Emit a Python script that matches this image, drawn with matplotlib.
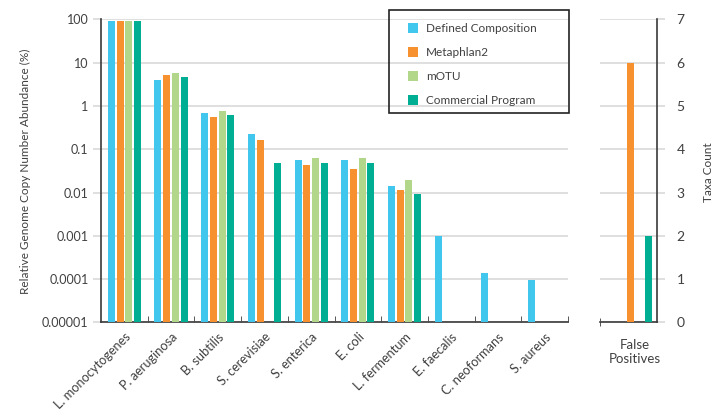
import numpy as np
import matplotlib
matplotlib.use("Agg")
import matplotlib.pyplot as plt
from matplotlib.patches import Patch, Rectangle
from matplotlib.ticker import FixedLocator, NullLocator

plt.rcParams['font.family'] = ['Lato', 'DejaVu Sans']

species = ["L. monocytogenes", "P. aeruginosa", "B. subtilis", "S. cerevisiae",
           "S. enterica", "E. coli", "L. fermentum", "E. faecalis",
           "C. neoformans", "S. aureus"]
series = ["Defined Composition", "Metaphlan2", "mOTU", "Commercial Program"]
colors = ["#41c6ee", "#f7902f", "#b2d68a", "#00ae94"]

nan = np.nan
defined = [91, 3.96, 0.685, 0.224, 0.056, 0.056, 0.0141, 0.001, 0.000138, 0.0000975]
metaphlan = [91, 5.2, 0.555, 0.163, 0.043, 0.035, 0.0115, nan, nan, nan]
motu = [91, 5.75, 0.76, nan, 0.063, 0.063, 0.0195, nan, nan, nan]
commercial = [91, 4.65, 0.62, 0.048, 0.048, 0.048, 0.0093, nan, nan, nan]
abundance = [defined, metaphlan, motu, commercial]

fp_label = "False\nPositives"
false_pos = [0, 6, 0, 2]

ytick_vals = [1e-5, 1e-4, 1e-3, 1e-2, 1e-1, 1, 10, 100]
ytick_text = ["0.00001", "0.0001", "0.001", "0.01", "0.1", "1", "10", "100"]

txt = "#404040"
grid = "#d9d9d9"
spine = "#3a3a3a"
slot = 0.187
bw = 0.15

fig = plt.figure(figsize=(7.17, 4.15), dpi=100)
ax = fig.add_axes([0.1409, 0.2229, 0.6513, 0.7306])
ax2 = fig.add_axes([0.8368, 0.2229, 0.0795, 0.7306])

x = np.arange(len(species))
for i, (vals, c) in enumerate(zip(abundance, colors)):
    ax.bar(x + (i - 1.5) * slot, vals, width=bw, color=c, zorder=3)

ax.set_yscale('log')
ax.set_ylim(1e-5, 100)
ax.set_xlim(-0.5, len(species) - 0.5)
ax.yaxis.set_major_locator(FixedLocator(ytick_vals))
ax.yaxis.set_minor_locator(NullLocator())
ax.set_yticklabels(ytick_text)
ax.set_xticks(x)
ax.set_xticklabels(species, rotation=45, ha='right', rotation_mode='anchor')
ax.set_xticks(np.arange(len(species)) + 0.5, minor=True)
ax.tick_params(axis='x', which='major', length=0, pad=6, labelsize=9.2, labelcolor=txt)
ax.tick_params(axis='x', which='minor', direction='in', length=4, color=spine)
ax.tick_params(axis='y', length=6, color=grid, width=1.2, pad=3, labelsize=9, labelcolor=txt)
ax.grid(axis='y', color=grid, lw=1.2)
ax.set_axisbelow(True)
for s in ['top', 'right']:
    ax.spines[s].set_visible(False)
for s in ['left', 'bottom']:
    ax.spines[s].set_color(spine)
    ax.spines[s].set_linewidth(1.2)
ax.set_ylabel("Relative Genome Copy Number Abundance (%)", fontsize=8.5, color=txt, labelpad=8)

# false positives panel
for i, (v, c) in enumerate(zip(false_pos, colors)):
    if v > 0:
        ax2.bar((i - 1.5) * slot, v, width=bw, color=c, zorder=3)
ax2.set_xlim(-0.75, 0.47)
ax2.set_ylim(0, 7)
ax2.set_yticks(range(8))
ax2.set_xticks([0])
ax2.set_xticklabels([fp_label], fontsize=9.5, color=txt, linespacing=1.15)
ax2.set_xticks([-0.75], minor=True)
ax2.tick_params(axis='x', which='major', length=0, pad=12)
ax2.tick_params(axis='x', which='minor', direction='inout', length=6, color=spine)
ax2.yaxis.tick_right()
ax2.yaxis.set_label_position('right')
ax2.tick_params(axis='y', length=6, color=grid, width=1.2, pad=8, labelsize=10, labelcolor=txt)
ax2.grid(axis='y', color=grid, lw=1.2)
ax2.set_axisbelow(True)
for s in ['top', 'left']:
    ax2.spines[s].set_visible(False)
for s in ['right', 'bottom']:
    ax2.spines[s].set_color(spine)
    ax2.spines[s].set_linewidth(1.2)
fig.text(709 / 717, 0.585, "Taxa Count", rotation=90, ha='center', va='center',
         fontsize=8.5, color=txt)

# legend: frameless entries inside a hand-placed box
handles = [Patch(facecolor=c, edgecolor='none') for c in colors]
leg = ax.legend(handles, series, loc='upper left',
                bbox_to_anchor=(408 / 717, 1 - 23 / 415),
                bbox_transform=fig.transFigure, borderaxespad=0, borderpad=0,
                fontsize=8.5, handlelength=0.85, handleheight=0.85,
                handletextpad=0.7, labelspacing=1.1, frameon=False,
                labelcolor=txt)
fig.patches.append(Rectangle((389 / 717, 1 - 113 / 415), 180 / 717, 103 / 415,
                             transform=fig.transFigure, facecolor='none',
                             edgecolor='#222222', lw=1.2, zorder=5))

fig.savefig("out.png", dpi=100)
